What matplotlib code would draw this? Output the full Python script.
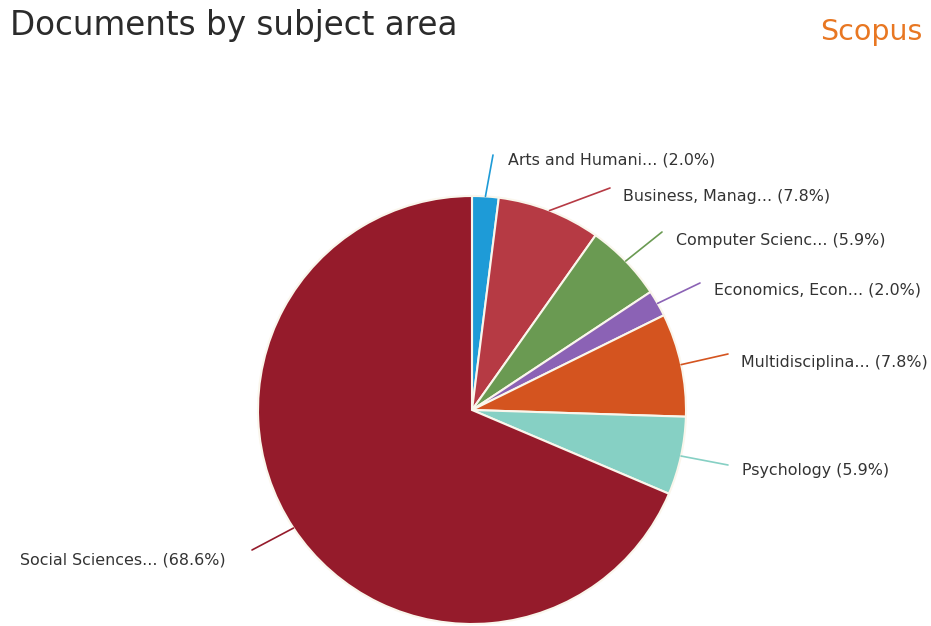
import numpy as np
import matplotlib
matplotlib.use("Agg")
import matplotlib.pyplot as plt

categories = ["Arts and Humani...", "Business, Manag...", "Computer Scienc...",
              "Economics, Econ...", "Multidisciplina...", "Psychology", "Social Sciences..."]
values = [2.0, 7.8, 5.9, 2.0, 7.8, 5.9, 68.6]
colors = ["#1E9BD7", "#B63A44", "#6A9A52", "#8B62B5", "#D4541F", "#86D0C4", "#951B2B"]

# label anchor positions (pixels from top-left) and alignment
label_pos = [(508, 160, "left"), (623, 197, "left"), (676, 240, "left"),
             (714, 290, "left"), (741, 362, "left"), (742, 471, "left"),
             (226, 560, "right")]
line_end = [(493, 155), (610, 188), (662, 232), (700, 283), (728, 354), (728, 465), (252, 550)]

W, H = 931, 626
fig = plt.figure(figsize=(W / 100, H / 100), dpi=100)
ax = fig.add_axes([0, 0, 1, 1])
ax.set_xlim(0, W)
ax.set_ylim(0, H)
ax.set_aspect("equal")
ax.axis("off")

cx, cy, r = 472, H - 410, 214
wedges, _ = ax.pie(values, colors=colors, startangle=90, counterclock=False,
                   center=(cx, cy), radius=r,
                   wedgeprops=dict(edgecolor="#FAF6EC", linewidth=1.5))
ax.set_xlim(0, W)
ax.set_ylim(0, H)

for w, lab, v, (lx, ly, ha), (ex, ey), c in zip(wedges, categories, values, label_pos, line_end, colors):
    ang = np.deg2rad((w.theta1 + w.theta2) / 2)
    sx = cx + r * np.cos(ang)
    sy = cy + r * np.sin(ang)
    ax.plot([sx, ex], [sy, H - ey], color=c, lw=1.2, solid_capstyle="round")
    ax.text(lx, H - ly, f"{lab} ({v:.1f}%)", ha=ha, va="center",
            fontsize=11.4, color="#333333", family="DejaVu Sans")

fig.text(10 / W, 1 - 26 / H, "Documents by subject area", ha="left", va="center",
         fontsize=23.5, color="#2b2b2b", family="DejaVu Sans")
fig.text(922 / W, 1 - 32 / H, "Scopus", ha="right", va="center",
         fontsize=20.5, color="#E87722", family="DejaVu Sans")

fig.savefig("out.png", dpi=100, facecolor="white")
